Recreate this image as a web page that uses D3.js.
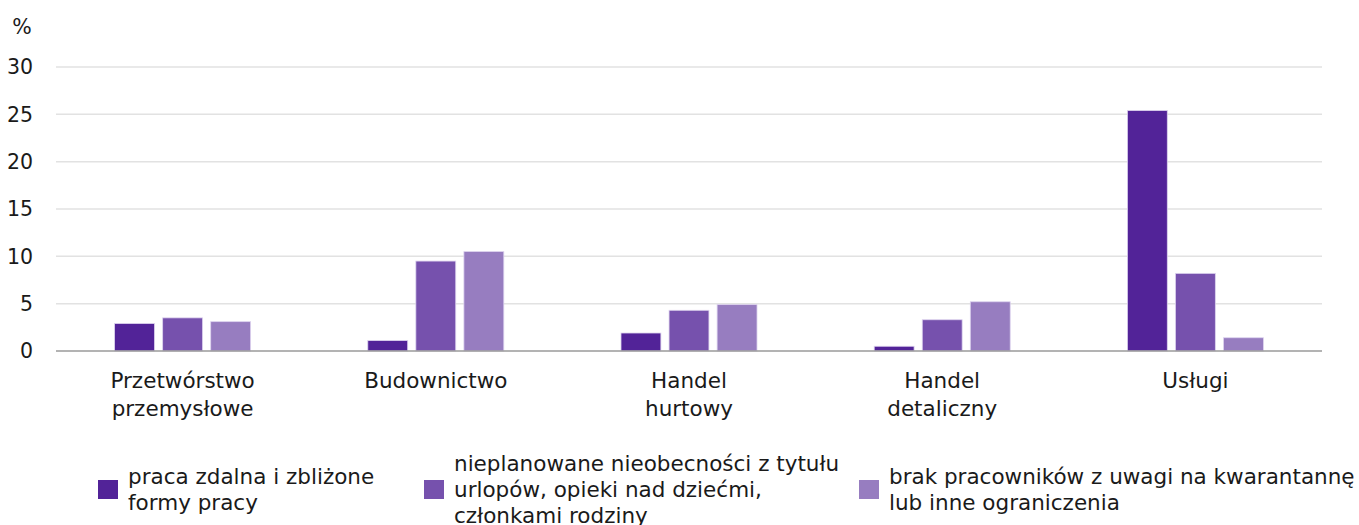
<!DOCTYPE html>
<html>
<head>
<meta charset="utf-8">
<script src="https://cdn.jsdelivr.net/npm/d3@7"></script>
<style>
  body { margin: 0; background: #fff; }
  text { font-family: "DejaVu Sans", "Open Sans", sans-serif; fill: #1a1a1a; }
</style>
</head>
<body>
<script>
var categories = [["Przetwórstwo", "przemysłowe"], ["Budownictwo"], ["Handel", "hurtowy"], ["Handel", "detaliczny"], ["Usługi"]];
var seriesNames = [
  ["praca zdalna i zbliżone", "formy pracy"],
  ["nieplanowane nieobecności z tytułu", "urlopów, opieki nad dziećmi,", "członkami rodziny"],
  ["brak pracowników z uwagi na kwarantannę", "lub inne ograniczenia"]
];
var remote = [2.9, 1.1, 1.9, 0.5, 25.4];
var absences = [3.5, 9.5, 4.3, 3.3, 8.2];
var quarantine = [3.1, 10.5, 4.9, 5.2, 1.4];
var yTicks = [0, 5, 10, 15, 20, 25, 30];
var colors = ["#522398", "#7651ad", "#977dc0"];

var series = [remote, absences, quarantine];
var w = 1359, h = 525;
var margin = {top: 67, right: 37, bottom: 174, left: 56};
var innerW = w - margin.left - margin.right,
    innerH = h - margin.top - margin.bottom;

var svg = d3.select("body").append("svg")
    .attr("width", w)
    .attr("height", h);

var g = svg.append("g")
    .attr("transform", "translate(" + [margin.left, margin.top] + ")");

var x0 = d3.scaleBand()
    .domain(d3.range(categories.length))
    .range([0, innerW]);

var x1 = d3.scaleBand()
    .domain(d3.range(series.length))
    .range([0, 136])
    .paddingInner(0.17);

var y = d3.scaleLinear()
    .domain([0, 30])
    .range([innerH, 0]);

// grid
g.selectAll(".grid")
    .data(yTicks.slice(1))
    .enter().append("line")
    .attr("x1", 0)
    .attr("x2", innerW)
    .attr("y1", function(d) { return y(d); })
    .attr("y2", function(d) { return y(d); })
    .style("stroke", "#e2e2e2")
    .style("stroke-width", 1.5);

// y labels
g.selectAll(".ylab")
    .data(yTicks)
    .enter().append("text")
    .attr("x", -23)
    .attr("y", function(d) { return y(d); })
    .attr("dy", "0.35em")
    .attr("text-anchor", "end")
    .style("font-size", "20.5px")
    .text(function(d) { return d; });

svg.append("text")
    .attr("x", 22)
    .attr("y", 27)
    .attr("dy", "0.35em")
    .attr("text-anchor", "middle")
    .style("font-size", "20.5px")
    .text("%");

// bars
var groups = g.selectAll(".grp")
    .data(categories)
    .enter().append("g")
    .attr("transform", function(d, i) {
      return "translate(" + (x0(i) + x0.bandwidth() / 2 - 68) + ",0)";
    });

groups.selectAll("rect")
    .data(function(d, i) { return series.map(function(s) { return s[i]; }); })
    .enter().append("rect")
    .attr("x", function(d, j) { return x1(j); })
    .attr("width", x1.bandwidth())
    .attr("y", function(d) { return y(d); })
    .attr("height", function(d) { return innerH - y(d); })
    .style("fill", function(d, j) { return colors[j]; })
    .style("stroke", "#ddd3ee")
    .style("stroke-width", 0.8);

// axis line
g.append("line")
    .attr("x1", 0)
    .attr("x2", innerW)
    .attr("y1", innerH)
    .attr("y2", innerH)
    .style("stroke", "#9a9a9a")
    .style("stroke-width", 1.5);

// category labels
groups.append("text")
    .attr("x", 68)
    .attr("text-anchor", "middle")
    .style("font-size", "21.5px")
    .selectAll("tspan")
    .data(function(d) { return d; })
    .enter().append("tspan")
    .attr("x", 68)
    .attr("y", function(d, k) { return innerH + 37 + k * 28; })
    .text(function(d) { return d; });

// legend
var legendX = [98, 424, 859];
var legend = svg.selectAll(".legend")
    .data(seriesNames)
    .enter().append("g")
    .attr("transform", function(d, i) { return "translate(" + legendX[i] + ",0)"; });

legend.append("rect")
    .attr("x", 0)
    .attr("y", 480)
    .attr("width", 20)
    .attr("height", 19)
    .style("fill", function(d, i) { return colors[i]; });

legend.append("text")
    .style("font-size", "21.5px")
    .selectAll("tspan")
    .data(function(d) { return d; })
    .enter().append("tspan")
    .attr("x", 30)
    .attr("y", function(d, k, nodes) {
      var n = nodes.length;
      return 489 - (n - 1) * 13 + k * 26;
    })
    .attr("dy", "0.35em")
    .text(function(d) { return d; });
</script>
</body>
</html>
